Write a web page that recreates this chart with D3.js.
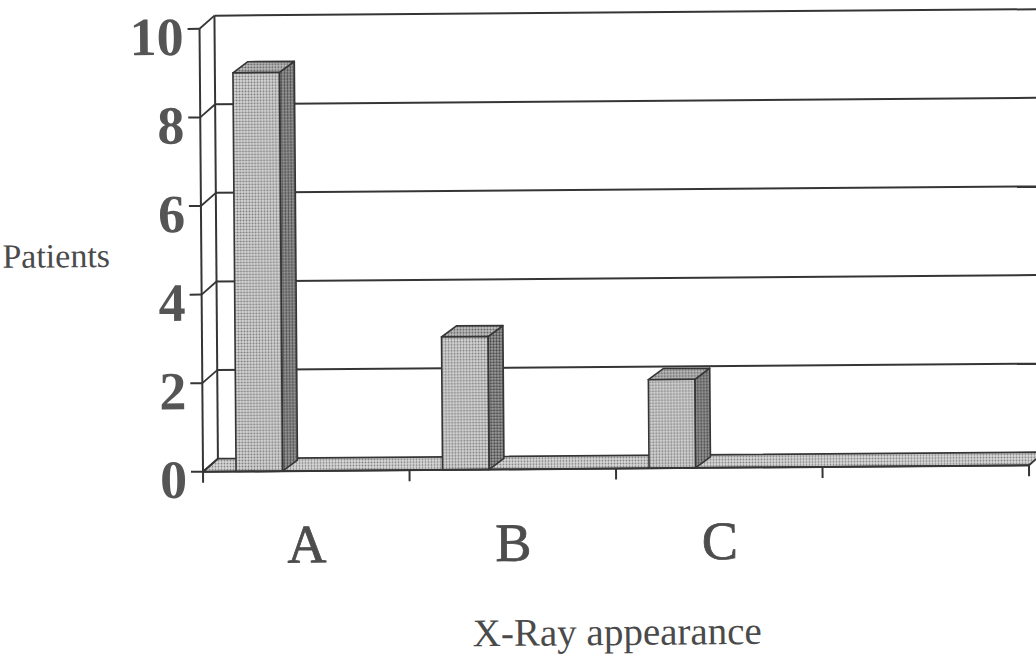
<!DOCTYPE html>
<html>
<head>
<meta charset="utf-8">
<script src="https://cdn.jsdelivr.net/npm/d3@7/dist/d3.min.js"></script>
<style>
  html, body { margin: 0; padding: 0; background: #fff; }
  svg { display: block; }
</style>
</head>
<body>
<svg id="chart" width="1036" height="657"></svg>
<script>
// Patients by X-ray appearance (3-D column chart)
const categories = ["A", "B", "C", ""];
const patients = [9, 3, 2, null];
const yTicks = [0, 2, 4, 6, 8, 10];
const yTitle = "Patients";
const xTitle = "X-Ray appearance";

const svg = d3.select("#chart");

// halftone-like fills for the printed 3-D surfaces
const defs = svg.append("defs");
function halftone(id, bg, dot, r) {
  const p = defs.append("pattern")
    .attr("id", id).attr("width", 3).attr("height", 3)
    .attr("patternUnits", "userSpaceOnUse");
  p.append("rect").attr("width", 3).attr("height", 3).attr("fill", bg);
  p.append("circle").attr("cx", 1.5).attr("cy", 1.5).attr("r", r).attr("fill", dot);
  return `url(#${id})`;
}
const fillFront = halftone("ht-front", "#d6d6d6", "#7a7a7a", 1.0);
const fillSide = halftone("ht-side", "#a2a2a2", "#474747", 1.15);
const fillTop = halftone("ht-top", "#c2c2c2", "#5e5e5e", 1.05);
const fillFloor = halftone("ht-floor", "#dcdcdc", "#808080", 1.0);

const g = svg.append("g").attr("transform", "rotate(-0.45, 620, 340)");

const x = d3.scaleBand().domain(categories).range([202, 1028]).padding(0);
const y = d3.scaleLinear().domain([0, 10]).range([468.5, 25.5]);

// depth offsets of the wall and of the columns
const wdx = 15, wdy = -13;
const bdx = 15, bdy = -11;
const ink = "#353535";
const serif = "'Liberation Serif', 'DejaVu Serif', serif";

// back wall gridlines
g.append("g").selectAll("line").data(yTicks.filter(d => d > 0)).join("line")
  .attr("x1", x.range()[0] + wdx).attr("x2", x.range()[1] + wdx + 20)
  .attr("y1", d => y(d) + wdy).attr("y2", d => y(d) + wdy)
  .attr("stroke", ink).attr("stroke-width", 2);

// back wall left edge
g.append("line")
  .attr("x1", x.range()[0] + wdx).attr("x2", x.range()[0] + wdx)
  .attr("y1", y(10) + wdy).attr("y2", y(0) + wdy)
  .attr("stroke", ink).attr("stroke-width", 2);

// floor
const x0 = x.range()[0], x1 = x.range()[1], yb = y(0);
g.append("path")
  .attr("d", d3.line()([[x0, yb], [x1, yb], [x1 + wdx, yb + wdy], [x0 + wdx, yb + wdy]]) + "Z")
  .attr("fill", fillFloor).attr("stroke", ink).attr("stroke-width", 1.8)
  .attr("stroke-linejoin", "round");

// columns
const bars = categories.map((c, i) => ({ c, v: patients[i] })).filter(d => d.v != null && d.v > 0);
const off = x.bandwidth() * 0.16, bw = x.bandwidth() * 0.225;
const bg = g.append("g").selectAll("g").data(bars).join("g");
bg.append("path") // side face
  .attr("d", d => {
    const r = x(d.c) + off + bw, t = y(d.v);
    return d3.line()([[r, t], [r + bdx, t + bdy], [r + bdx, yb + bdy], [r, yb]]) + "Z";
  })
  .attr("fill", fillSide).attr("stroke", ink).attr("stroke-width", 1.6).attr("stroke-linejoin", "round");
bg.append("path") // top face
  .attr("d", d => {
    const l = x(d.c) + off, r = l + bw, t = y(d.v);
    return d3.line()([[l, t], [l + bdx, t + bdy], [r + bdx, t + bdy], [r, t]]) + "Z";
  })
  .attr("fill", fillTop).attr("stroke", ink).attr("stroke-width", 1.6).attr("stroke-linejoin", "round");
bg.append("rect") // front face
  .attr("x", d => x(d.c) + off).attr("width", bw)
  .attr("y", d => y(d.v)).attr("height", d => yb - y(d.v))
  .attr("fill", fillFront).attr("stroke", ink).attr("stroke-width", 1.6);

// value axis: front line, ticks and connectors to the wall
g.append("line")
  .attr("x1", x0).attr("x2", x0).attr("y1", y(10)).attr("y2", yb)
  .attr("stroke", ink).attr("stroke-width", 2);
const yt = g.append("g").selectAll("g").data(yTicks).join("g");
yt.append("line")
  .attr("x1", x0 - 12).attr("x2", x0).attr("y1", d => y(d)).attr("y2", d => y(d))
  .attr("stroke", ink).attr("stroke-width", 2);
yt.append("line")
  .attr("x1", x0).attr("x2", x0 + wdx).attr("y1", d => y(d)).attr("y2", d => y(d) + wdy)
  .attr("stroke", ink).attr("stroke-width", 1.8);
yt.append("text")
  .attr("x", x0 - 16).attr("y", d => y(d) + 26)
  .attr("text-anchor", "end")
  .attr("font-family", serif)
  .attr("font-weight", "bold").attr("font-size", 54)
  .attr("fill", "#555")
  .text(d => d);

// category axis: front edge and ticks
g.append("line")
  .attr("x1", x0).attr("x2", x1).attr("y1", yb).attr("y2", yb)
  .attr("stroke", ink).attr("stroke-width", 2);
const bounds = categories.map(c => x(c)).concat([x1]);
g.append("g").selectAll("line").data(bounds).join("line")
  .attr("x1", d => d).attr("x2", d => d).attr("y1", yb).attr("y2", yb + 11)
  .attr("stroke", ink).attr("stroke-width", 2);
g.append("g").selectAll("text").data(categories).join("text")
  .attr("x", d => x(d) + x.bandwidth() / 2).attr("y", 560)
  .attr("text-anchor", "middle")
  .attr("font-family", serif)
  .attr("font-size", 54).attr("fill", "#4d4d4d")
  .attr("stroke", "#4d4d4d").attr("stroke-width", 0.8)
  .text(d => d);

// axis titles
g.append("text")
  .attr("x", 615).attr("y", 645).attr("text-anchor", "middle")
  .attr("font-family", serif)
  .attr("font-size", 39).attr("fill", "#4a4a4a")
  .text(xTitle);
g.append("text")
  .attr("x", 3).attr("y", 263).attr("text-anchor", "start")
  .attr("font-family", serif)
  .attr("font-size", 34).attr("fill", "#4a4a4a")
  .text(yTitle);
</script>
</body>
</html>
